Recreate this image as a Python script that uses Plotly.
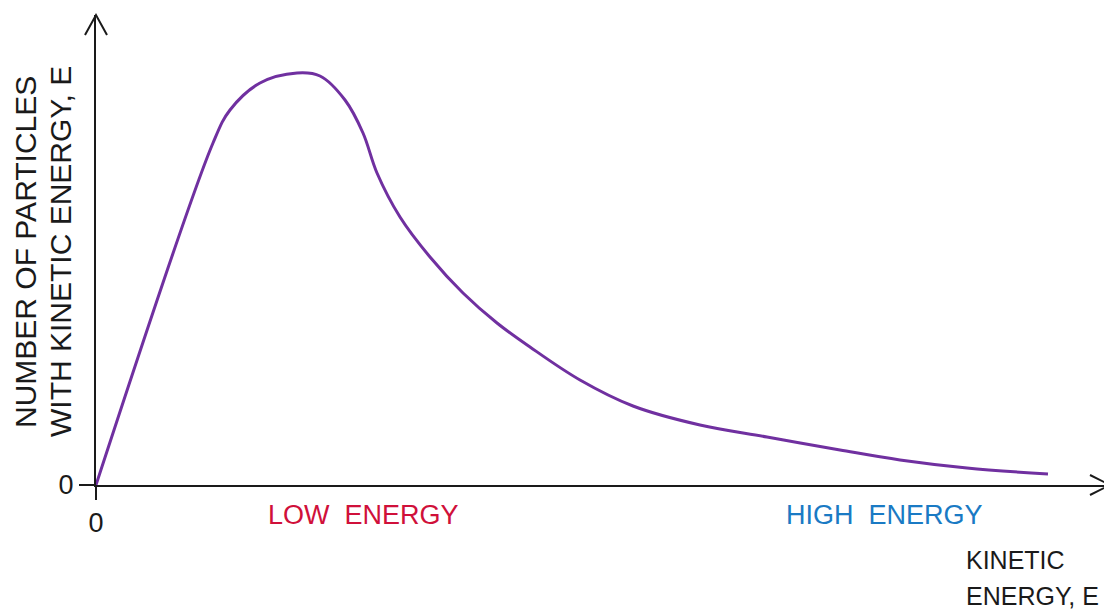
import plotly.graph_objects as go

# Kinetic energy (x) and number of particles (y)
energy = [0, 117, 134, 164, 201, 224, 249, 267, 281, 304, 334, 367, 401, 434, 484,
          537, 604, 671, 744, 804, 871, 952]
particles = [0, 342, 375, 402, 412, 409, 385, 352, 312, 268, 228, 192, 162, 138, 105,
             79, 60, 48, 35, 25, 17, 11]

y_title_lines = ["NUMBER OF PARTICLES", "WITH KINETIC ENERGY, E"]
x_title_lines = ["KINETIC", "ENERGY, E"]
low_label = "LOW  ENERGY"
high_label = "HIGH  ENERGY"

OFF = 8  # page body margin
W, H = 1112 - OFF, 609 - OFF
ML, MR, MT, MB = 96 - OFF, 2, 15 - OFF, 124
PW, PH = W - ML - MR, H - MT - MB

FONT = "Liberation Sans"
INK = "#1a1a1a"


def px(x):
    return (x - OFF - ML) / PW


def py(y):
    return (H - MB - (y - OFF)) / PH


fig = go.Figure()
fig.add_trace(go.Scatter(
    x=energy, y=particles, mode="lines",
    line=dict(color="#7030a0", width=3, shape="spline", smoothing=1.0),
    hoverinfo="skip", showlegend=False,
))

fig.update_layout(
    width=W, height=H,
    margin=dict(l=ML, r=MR, t=MT, b=MB),
    paper_bgcolor="white", plot_bgcolor="white",
    showlegend=False,
    xaxis=dict(range=[0, PW], showgrid=False, zeroline=False, showline=True,
               linecolor=INK, linewidth=2, ticks="outside", ticklen=13,
               tickwidth=2, tickcolor=INK, tickvals=[0], ticktext=["0"],
               tickfont=dict(family=FONT, size=27, color=INK), fixedrange=True),
    yaxis=dict(range=[0, PH], showgrid=False, zeroline=False, showline=True,
               linecolor=INK, linewidth=2, ticks="outside", ticklen=15,
               tickwidth=2, tickcolor=INK, tickvals=[0], ticktext=["0"],
               tickfont=dict(family=FONT, size=27, color=INK), fixedrange=True),
)

# arrow heads (open chevrons) at axis ends
fig.add_shape(type="path", xref="paper", yref="paper",
              path=f"M {px(1090)} {py(475)} L {px(1110)} {py(485)} L {px(1090)} {py(495)}",
              line=dict(color=INK, width=2))
fig.add_shape(type="path", xref="paper", yref="paper",
              path=f"M {px(85)} {py(35)} L {px(96)} {py(15)} L {px(107)} {py(35)}",
              line=dict(color=INK, width=2))

ann = []
ann.append(dict(text=low_label, x=px(363), y=py(515), size=27, font=dict(color="#d0103a")))
ann.append(dict(text=high_label, x=px(884), y=py(515), size=27, font=dict(color="#1a7ac4")))
ann.append(dict(text=x_title_lines[0], x=px(964), y=py(560), size=25, xanchor="left",
                font=dict(color=INK)))
ann.append(dict(text=x_title_lines[1], x=px(964), y=py(596), size=25, xanchor="left",
                font=dict(color=INK)))
ann.append(dict(text=y_title_lines[0], x=px(25), y=py(252), size=30, textangle=-90,
                font=dict(color=INK)))
ann.append(dict(text=y_title_lines[1], x=px(60), y=py(252), size=30, textangle=-90,
                font=dict(color=INK)))
for a in ann:
    a.setdefault("xanchor", "center")
    a["yanchor"] = "middle"
    a["xref"] = "paper"
    a["yref"] = "paper"
    a["showarrow"] = False
    a["font"]["family"] = FONT
    a["font"]["size"] = a.pop("size")
    fig.add_annotation(**a)

fig.write_html("out.html")
